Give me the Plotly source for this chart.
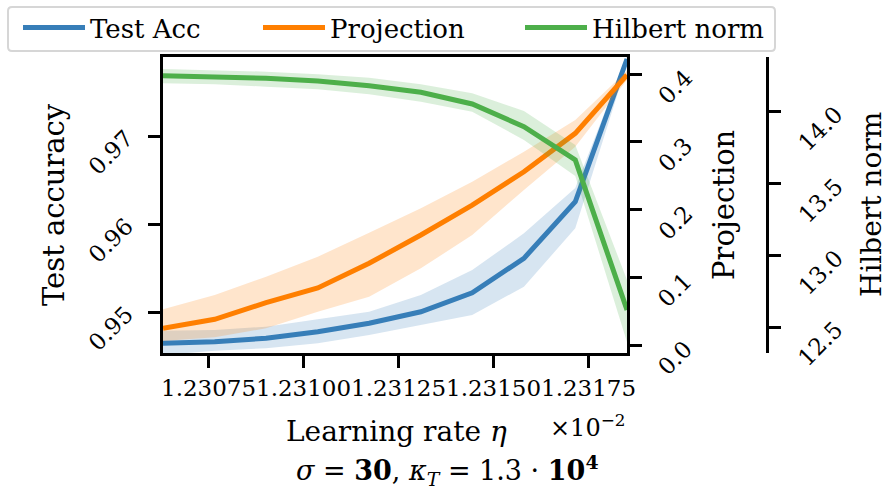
import plotly.graph_objects as go

# ---------------- data ----------------
eta = [1.23063, 1.230766, 1.230901, 1.231037, 1.231172,
       1.231308, 1.231443, 1.231579, 1.231714, 1.23185]  # x 10^-2

acc_mean = [0.94644, 0.94662, 0.94701, 0.94776, 0.94872,
            0.95003, 0.95219, 0.95610, 0.96253, 0.97875]
acc_upper = [0.94788, 0.94795, 0.94833, 0.94917, 0.95003,
             0.95193, 0.95477, 0.95894, 0.96409, 0.97920]
acc_lower = [0.94511, 0.94560, 0.94588, 0.94644, 0.94739,
             0.94852, 0.94966, 0.95288, 0.95951, 0.97818]

proj_mean = [0.0251, 0.0383, 0.0628, 0.0845, 0.1209,
             0.1626, 0.2068, 0.2559, 0.3125, 0.3985]
proj_upper = [0.0531, 0.0742, 0.1011, 0.1306, 0.1660,
              0.2020, 0.2412, 0.2854, 0.3322, 0.4048]
proj_lower = [0.0063, 0.0118, 0.0251, 0.0495, 0.0717,
              0.1135, 0.1626, 0.2290, 0.2928, 0.3911]

hil_mean = [14.2529, 14.2459, 14.2348, 14.2160, 14.1832,
            14.1372, 14.0557, 13.8976, 13.6656, 12.6206]
hil_upper = [14.2996, 14.2926, 14.2808, 14.2626, 14.2390,
             14.1930, 14.1303, 14.0070, 13.7701, 12.8296]
hil_lower = [14.2000, 14.1930, 14.1763, 14.1581, 14.1233,
             14.0718, 14.0021, 13.8049, 13.5541, 12.3977]

x_ticks = [1.23075, 1.23100, 1.23125, 1.23150, 1.23175]
x_ticktext = ["1.23075", "1.23100", "1.23125", "1.23150", "1.23175"]
acc_ticks = [0.95, 0.96, 0.97]
acc_ticktext = ["0.95", "0.96", "0.97"]
proj_ticks = [0.0, 0.1, 0.2, 0.3, 0.4]
proj_ticktext = ["0.0", "0.1", "0.2", "0.3", "0.4"]
hil_ticks = [12.5, 13.0, 13.5, 14.0]
hil_ticktext = ["12.5", "13.0", "13.5", "14.0"]

# ---------------- style ----------------
FONT = "DejaVu Serif"
BLUE, ORANGE, GREEN = "#377eb8", "#ff7f00", "#4daf4a"
BLUE_F = "rgba(55,126,184,0.2)"
ORANGE_F = "rgba(255,127,0,0.2)"
GREEN_F = "rgba(77,175,74,0.2)"

W, H = 889, 491
PL, PR, PT, PB = 163, 800, 57, 353       # paper area in pixels
FRAME_R = 627                            # right edge of the plot frame
HIL_X = 767                              # Hilbert spine
TICK_FS = 23


def pxx(px):
    return (px - PL) / (PR - PL)


def pxy(py):
    return (PB - py) / (PB - PT)


fig = go.Figure()


def band(x, lo, hi, color, yaxis):
    fig.add_trace(go.Scatter(
        x=list(x) + list(x)[::-1], y=list(hi) + list(lo)[::-1],
        fill="toself", fillcolor=color, line=dict(width=0),
        mode="lines", showlegend=False, hoverinfo="skip", yaxis=yaxis))


band(eta, acc_lower, acc_upper, BLUE_F, "y")
fig.add_trace(go.Scatter(x=eta, y=acc_mean, mode="lines", name="Test Acc",
                         line=dict(color=BLUE, width=5), yaxis="y",
                         legend="legend"))
band(eta, proj_lower, proj_upper, ORANGE_F, "y2")
fig.add_trace(go.Scatter(x=eta, y=proj_mean, mode="lines", name="Projection",
                         line=dict(color=ORANGE, width=5), yaxis="y2",
                         legend="legend2"))
band(eta, hil_lower, hil_upper, GREEN_F, "y3")
fig.add_trace(go.Scatter(x=eta, y=hil_mean, mode="lines", name="Hilbert norm",
                         line=dict(color=GREEN, width=5), yaxis="y3",
                         legend="legend3"))

axis_common = dict(showgrid=False, zeroline=False, showline=True,
                   linecolor="black", linewidth=3, ticks="outside",
                   ticklen=12, tickwidth=2.5, tickcolor="black",
                   automargin=False, showticklabels=False)


def leg(x_px):
    return dict(orientation="h", xref="container", yref="container",
                x=x_px / W, y=1 - 4 / H, xanchor="left", yanchor="top",
                bgcolor="rgba(0,0,0,0)", borderwidth=0, itemwidth=62,
                font=dict(family=FONT, size=26, color="black"))


fig.update_layout(
    width=W, height=H,
    margin=dict(l=PL, r=W - PR, t=PT, b=H - PB, autoexpand=False),
    paper_bgcolor="white", plot_bgcolor="white",
    font=dict(family=FONT, color="black", size=TICK_FS),
    xaxis=dict(domain=[0, pxx(FRAME_R)], range=[1.23063, 1.23185],
               tickvals=x_ticks, mirror=True, **axis_common),
    yaxis=dict(range=[0.94534, 0.97898], tickvals=acc_ticks,
               mirror=True, **axis_common),
    yaxis2=dict(range=[-0.01135, 0.42506], tickvals=proj_ticks,
                overlaying="y", side="right", anchor="x", **axis_common),
    yaxis3=dict(range=[12.321, 14.383], tickvals=hil_ticks,
                overlaying="y", side="right", anchor="free",
                position=pxx(HIL_X), **axis_common),
    legend=leg(18), legend2=leg(258), legend3=leg(520),
)

# legend frame (rounded)
x0, x1, y0, y1, r = 8, 775, 7, 51, 4
rx, ry = r / (PR - PL), r / (PB - PT)
X0, X1, Y0, Y1 = pxx(x0), pxx(x1), pxy(y1), pxy(y0)
path = (f"M{X0 + rx},{Y0} L{X1 - rx},{Y0} Q{X1},{Y0} {X1},{Y0 + ry} "
        f"L{X1},{Y1 - ry} Q{X1},{Y1} {X1 - rx},{Y1} L{X0 + rx},{Y1} "
        f"Q{X0},{Y1} {X0},{Y1 - ry} L{X0},{Y0 + ry} Q{X0},{Y0} {X0 + rx},{Y0} Z")
fig.add_shape(type="path", path=path, xref="paper", yref="paper",
              line=dict(color="#d6d6d6", width=2), fillcolor="rgba(0,0,0,0)")

ann = []
C = dict(showarrow=False, xanchor="center", yanchor="middle")
# tick labels, placed on the axes' own scales
for v, t in zip(x_ticks, x_ticktext):
    ann.append(dict(x=v, xref="x", y=pxy(388), yref="paper", text=t,
                    font=dict(family=FONT, size=TICK_FS), **C))
for v, t in zip(acc_ticks, acc_ticktext):
    ann.append(dict(x=pxx(110), xref="paper", y=v, yref="y", text=t,
                    textangle=-45, yshift=-16.5,
                    font=dict(family=FONT, size=TICK_FS), **C))
for v, t in zip(proj_ticks, proj_ticktext):
    ann.append(dict(x=pxx(675), xref="paper", y=v, yref="y2", text=t,
                    textangle=-45, yshift=-13,
                    font=dict(family=FONT, size=TICK_FS), **C))
for v, t in zip(hil_ticks, hil_ticktext):
    ann.append(dict(x=pxx(820), xref="paper", y=v, yref="y3", text=t,
                    textangle=-45, yshift=-17,
                    font=dict(family=FONT, size=TICK_FS), **C))

# axis titles
ann.append(dict(x=pxx(54), y=0.5, xref="paper", yref="paper",
                text="Test accuracy", textangle=-90,
                font=dict(family=FONT, size=29), **C))
ann.append(dict(x=pxx(724), y=0.5, xref="paper", yref="paper",
                text="Projection", textangle=-90,
                font=dict(family=FONT, size=29), **C))
ann.append(dict(x=pxx(871), y=0.5, xref="paper", yref="paper",
                text="Hilbert norm", textangle=-90,
                font=dict(family=FONT, size=28), **C))
ann.append(dict(x=pxx(396), y=pxy(431), xref="paper", yref="paper",
                text="Learning rate <i>η</i>",
                font=dict(family=FONT, size=28), **C))
ann.append(dict(x=pxx(587), y=pxy(426), xref="paper", yref="paper",
                text="×10<sup>−2</sup>",
                font=dict(family=FONT, size=24), **C))
ann.append(dict(x=pxx(447), y=pxy(470), xref="paper", yref="paper",
                text="<i>σ</i> = <b>30</b>, <i>κ</i><sub><i>T</i></sub> = 1.3 · <b>10<sup>4</sup></b>",
                font=dict(family=FONT, size=27), **C))

fig.update_layout(annotations=ann)
fig.write_html("out.html", config={"displayModeBar": False},
               post_script="document.body.style.margin='0px';")
